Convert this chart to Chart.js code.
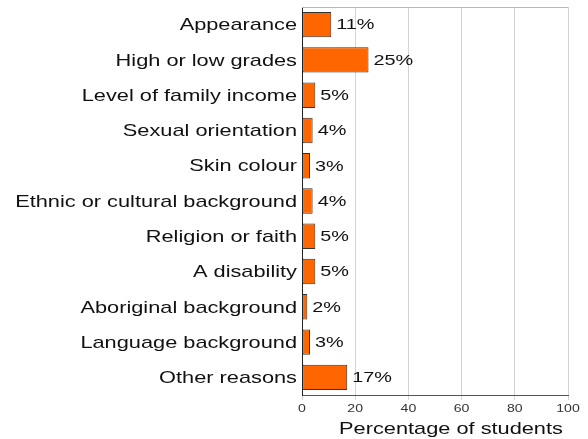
<!DOCTYPE html>
<html>
<head>
<meta charset="utf-8">
<script src="https://cdn.jsdelivr.net/npm/chart.js@4"></script>
<style>
  html, body { margin: 0; padding: 0; background: #fff; }
  #wrap { width: 588px; height: 439px; }
</style>
</head>
<body>
<div id="wrap"><canvas id="motivosChart"></canvas></div>
<script>
// reasons for being bullied
let motivos = [
    "Appearance",
    "High or low grades",
    "Level of family income",
    "Sexual orientation",
    "Skin colour",
    "Ethnic or cultural background",
    "Religion or faith",
    "A disability",
    "Aboriginal background",
    "Language background",
    "Other reasons"
];
let porcentajes = [11, 25, 5, 4, 3, 4, 5, 5, 2, 3, 17];
let marcasX = [0, 20, 40, 60, 80, 100];
let tituloX = "Percentage of students";

const FUENTE = "'Liberation Sans', Arial, sans-serif";
const ESTIRAR = 1.28; // the original text is drawn wider than normal

function textoEstirado(ctx, texto, x, y, alinear) {
    ctx.save();
    ctx.translate(x, y);
    ctx.scale(ESTIRAR, 1);
    ctx.textAlign = alinear;
    ctx.textBaseline = "middle";
    ctx.fillText(texto, 0, 0);
    ctx.restore();
}

// all the text of the chart, plus the top frame line
const textosPlugin = {
    id: "textos",
    afterDraw(chart) {
        let ctx = chart.ctx;
        let area = chart.chartArea;
        let escalaX = chart.scales.x;
        let escalaY = chart.scales.y;
        ctx.save();
        ctx.strokeStyle = "#b8b8b8";
        ctx.lineWidth = 1;
        ctx.beginPath();
        ctx.moveTo(area.left, area.top + 0.5);
        ctx.lineTo(area.right, area.top + 0.5);
        ctx.stroke();

        // category labels
        ctx.fillStyle = "#111";
        ctx.font = "17px " + FUENTE;
        motivos.forEach((motivo, i) => {
            textoEstirado(ctx, motivo, area.left - 5, escalaY.getPixelForValue(i) + 1, "right");
        });

        // values next to the bars
        ctx.font = "15.5px " + FUENTE;
        chart.getDatasetMeta(0).data.forEach((barra, i) => {
            textoEstirado(ctx, porcentajes[i] + "%", barra.x + 5, barra.y + 0.5, "left");
        });

        // x tick labels
        ctx.fillStyle = "#333";
        ctx.font = "11px " + FUENTE;
        marcasX.forEach(v => {
            textoEstirado(ctx, String(v), escalaX.getPixelForValue(v), area.bottom + 13.5, "center");
        });

        // x title
        ctx.fillStyle = "#111";
        ctx.font = "17px " + FUENTE;
        textoEstirado(ctx, tituloX, 451, area.bottom + 34, "center");
        ctx.restore();
    }
};

function dibujarGrafica() {
    let ctx = document.getElementById("motivosChart").getContext("2d");
    new Chart(ctx, {
        type: "bar",
        data: {
            labels: motivos,
            datasets: [{
                data: porcentajes,
                backgroundColor: "#ff6600",
                borderColor: "#333333",
                borderWidth: 1,
                borderSkipped: false,
                barPercentage: 0.72,
                categoryPercentage: 1
            }]
        },
        options: {
            indexAxis: "y",
            responsive: true,
            maintainAspectRatio: false,
            animation: false,
            layout: { padding: { top: 7, right: 20, left: 0, bottom: 0 } },
            plugins: {
                legend: { display: false },
                tooltip: { enabled: false }
            },
            scales: {
                x: {
                    min: 0,
                    max: 100,
                    afterBuildTicks(scale) {
                        scale.ticks = marcasX.map(v => ({ value: v }));
                    },
                    afterFit(scale) { scale.height = 44; },
                    grid: {
                        color: "#d4d4d4",
                        tickLength: 5,
                        drawTicks: true
                    },
                    border: { color: "#555", width: 1 },
                    ticks: { display: false }
                },
                y: {
                    afterFit(scale) { scale.width = 302; },
                    grid: { display: false, drawTicks: false },
                    border: { color: "#222", width: 1 },
                    ticks: { display: false }
                }
            }
        },
        plugins: [textosPlugin]
    });
}

addEventListener("load", dibujarGrafica, false);
</script>
</body>
</html>
